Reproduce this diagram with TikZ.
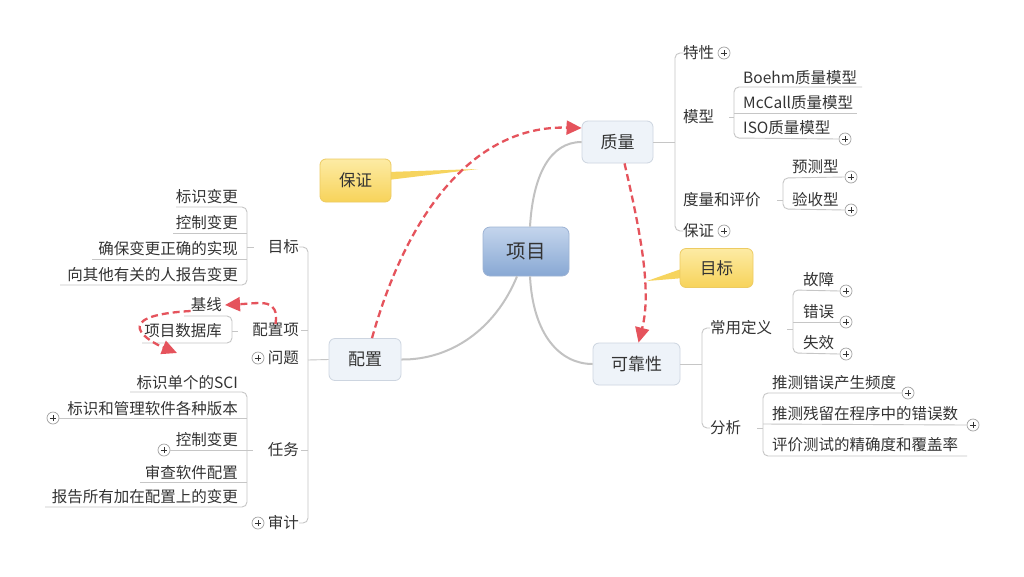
\documentclass[tikz,border=0pt]{standalone}
\usepackage{fontspec}
\setmainfont{Noto Sans CJK SC}
\usetikzlibrary{arrows.meta}
\definecolor{textgray}{HTML}{333333}
\definecolor{linegray}{HTML}{C6C6C6}
\definecolor{branchgray}{HTML}{C2C2C2}
\definecolor{plusgray}{HTML}{A0A0A0}
\definecolor{relred}{HTML}{E5535C}
\definecolor{mainfill}{HTML}{EEF3F9}
\definecolor{mainline}{HTML}{CDD5E0}
\definecolor{roottop}{HTML}{C4D5EC}
\definecolor{rootbot}{HTML}{88A8D4}
\definecolor{rootline}{HTML}{9DB3D4}
\definecolor{calltop}{HTML}{FDEBA4}
\definecolor{callbot}{HTML}{F7D35A}
\definecolor{callline}{HTML}{EDCB62}
\definecolor{wedge}{HTML}{F6D45E}
\tikzset{
  leaf/.style={font=\fontsize{15.5}{18}\selectfont, text=textgray, inner sep=0pt},
  mainbox/.style={rounded corners=6pt, draw=mainline, fill=mainfill, line width=0.8pt,
    minimum height=42pt, font=\fontsize{17}{20}\selectfont, text=textgray},
  rootbox/.style={rounded corners=7pt, draw=rootline, top color=roottop, bottom color=rootbot,
    line width=0.8pt, minimum width=86pt, minimum height=49pt, font=\fontsize{19.5}{22}\selectfont, text=textgray},
  callbox/.style={rounded corners=6pt, draw=callline, top color=calltop, bottom color=callbot,
    line width=0.8pt, font=\fontsize{16.5}{20}\selectfont, text=textgray},
  bracket/.style={draw=linegray, line width=0.9pt, rounded corners=5pt},
  branch/.style={draw=branchgray, line width=2pt},
  rel/.style={draw=relred, line width=2.3pt, dash pattern=on 7pt off 4pt,
    -{Triangle[length=15pt,width=14pt]}},
  plus/.style={circle, draw=plusgray, fill=white, minimum size=12pt, inner sep=0pt, line width=0.7pt,
    path picture={\draw[line width=0.9pt, textgray]
      ([xshift=-3.2pt]path picture bounding box.center) -- ([xshift=3.2pt]path picture bounding box.center)
      ([yshift=-3.2pt]path picture bounding box.center) -- ([yshift=3.2pt]path picture bounding box.center);}},
}
\begin{document}
\begin{tikzpicture}[x=1pt,y=-1pt]
\useasboundingbox[fill=white] (0,0) rectangle (1024,576);

% main nodes
\node[rootbox] (xm) at (526,251.5) {项目};
\node[mainbox, minimum width=71pt] (zl) at (617.5,142) {质量};
\node[mainbox, minimum width=87pt] (kk) at (636.5,364) {可靠性};
\node[mainbox, minimum width=72pt] (pz) at (365,359.5) {配置};

% root branches
\draw[branch] ([xshift=4pt]xm.north) .. controls (533,175) and (550,142) .. (zl.west);
\draw[branch] ([xshift=4pt]xm.south) .. controls (533,335) and (560,364) .. (kk.west);
\draw[branch] ([xshift=-9pt]xm.south) .. controls (495,330) and (450,360) .. (pz.east);

% callouts
\fill[wedge] (388,172) -- (478,169) -- (388,180) -- cycle;
\node[callbox, minimum width=71pt, minimum height=43pt] (bz) at (355.5,180.5) {保证};
\fill[wedge] (684,268) -- (647,281) -- (684,278) -- cycle;
\node[callbox, minimum width=73pt, minimum height=39pt] (mb) at (716.5,268) {目标};

% ---------- quality branch
\node[leaf, anchor=west] (tx) at (683,53) {特性};
\node[leaf, anchor=west] (mx) at (683,117) {模型};
\node[leaf, anchor=west] (dl) at (683,200) {度量和评价};
\node[leaf, anchor=west] (bzq) at (683,231) {保证};
\node[plus] (p1) at (724,53) {};
\node[plus] (p2) at (724,231) {};
\draw[bracket] (tx.west) -| (675,142) |- (bzq.west);
\draw[bracket] (zl.east) -- (675,142);

\node[leaf, anchor=west] (boehm) at (743,78) {Boehm质量模型};
\node[leaf, anchor=west] (mccall) at (743,103) {McCall质量模型};
\node[leaf, anchor=west] (iso) at (743,128) {ISO质量模型};
\node[plus] (p3) at (845,139) {};
\draw[bracket] (862,87) -- (734,87) -- (734,138) -- (p3.west);
\draw[bracket] (734,113) -- (857,113);
\draw[bracket] (729,117) -- (734,117);

\node[leaf, anchor=west] (yc) at (792,167) {预测型};
\node[leaf, anchor=west] (ys) at (792,200) {验收型};
\node[plus] (p4) at (851,177) {};
\node[plus] (p5) at (851,210) {};
\draw[bracket] (p4.west) -- (783,178) -- (783,209) -- (p5.west);
\draw[bracket] (777,200) -- (783,200);

% ---------- reliability branch
\node[leaf, anchor=west] (cy) at (710,328) {常用定义};
\node[leaf, anchor=west] (fx) at (710,428) {分析};
\draw[bracket] (cy.west) -| (702,364) |- (fx.west);
\draw[bracket] (kk.east) -- (702,364);

\node[leaf, anchor=west] (gz) at (803,280) {故障};
\node[leaf, anchor=west] (cw) at (803,312) {错误};
\node[leaf, anchor=west] (sx) at (803,343) {失效};
\node[plus] (p6) at (846,291) {};
\node[plus] (p7) at (846,322) {};
\node[plus] (p8) at (846,354) {};
\draw[bracket] (p6.west) -- (793,290) -- (793,353) -- (p8.west);
\draw[bracket] (793,322) -- (p7.west);
\draw[bracket] (787,329) -- (793,329);

\node[leaf, anchor=west] (a1) at (772,383) {推测错误产生频度};
\node[leaf, anchor=west] (a2) at (772,414) {推测残留在程序中的错误数};
\node[leaf, anchor=west] (a3) at (772,445) {评价测试的精确度和覆盖率};
\node[plus] (p9) at (908,393) {};
\node[plus] (p10) at (973,425) {};
\draw[bracket] (p9.west) -- (763,393) -- (763,456) -- (967,456);
\draw[bracket] (763,424) -- (p10.west);
\draw[bracket] (757,428) -- (763,428);

% ---------- configuration branch
\node[leaf, anchor=east] (mbz) at (299,247) {目标};
\node[leaf, anchor=east] (pzx) at (299,330) {配置项};
\node[leaf, anchor=east] (wt) at (299,358) {问题};
\node[leaf, anchor=east] (rw) at (299,450) {任务};
\node[leaf, anchor=east] (sj) at (299,523) {审计};
\node[plus] (p11) at (258,358) {};
\node[plus] (p12) at (258,523) {};
\draw[bracket] (mbz.east) -| (308,360) |- (sj.east);
\draw[bracket] (pz.west) -- (308,360);
\draw[bracket] (301,330) -- (308,330);
\draw[bracket] (301,450) -- (308,450);

\node[leaf, anchor=east] (g1) at (238,197) {标识变更};
\node[leaf, anchor=east] (g2) at (238,223) {控制变更};
\node[leaf, anchor=east] (g3) at (238,249) {确保变更正确的实现};
\node[leaf, anchor=east] (g4) at (238,275) {向其他有关的人报告变更};
\draw[bracket] (176,207) -- (247,207) -- (247,285) -- (60,285);
\draw[bracket] (173,233) -- (247,233);
\draw[bracket] (92,259) -- (247,259);
\draw[bracket] (247,247) -- (254,247);

\node[leaf, anchor=east] (jx) at (222,305) {基线};
\node[leaf, anchor=east] (xmsj) at (222,331) {项目数据库};
\draw[bracket] (184,316) -- (232,316) -- (232,343) -- (142,343);
\draw[bracket] (232,331) -- (238,331);

\node[leaf, anchor=east] (r1) at (238,383) {标识单个的SCI};
\node[leaf, anchor=east] (r2) at (238,409) {标识和管理软件各种版本};
\node[leaf, anchor=east] (r3) at (238,440) {控制变更};
\node[leaf, anchor=east] (r4) at (238,473) {审查软件配置};
\node[leaf, anchor=east] (r5) at (238,497) {报告所有加在配置上的变更};
\node[plus] (p13) at (53,418) {};
\node[plus] (p14) at (164,450) {};
\draw[bracket] (130,392) -- (247,392) -- (247,507) -- (45,507);
\draw[bracket] (p13.east) -- (247,418);
\draw[bracket] (p14.east) -- (253,450);
\draw[bracket] (140,482) -- (247,482);

% ---------- relationships
\draw[rel] ([xshift=7pt]pz.north) .. controls (405,220) and (470,125) .. ([yshift=14pt]zl.west);
\draw[rel] ([xshift=7pt]zl.south) .. controls (640,230) and (652,290) .. ([xshift=2pt]kk.north);
\draw[rel] ([yshift=-1pt]pzx.north) .. controls (279,298) and (262,303) .. ([xshift=3pt]jx.east);
\draw[rel] ([yshift=-6pt]jx.west) .. controls (105,316) and (150,342) .. (177,353);
\end{tikzpicture}
\end{document}
